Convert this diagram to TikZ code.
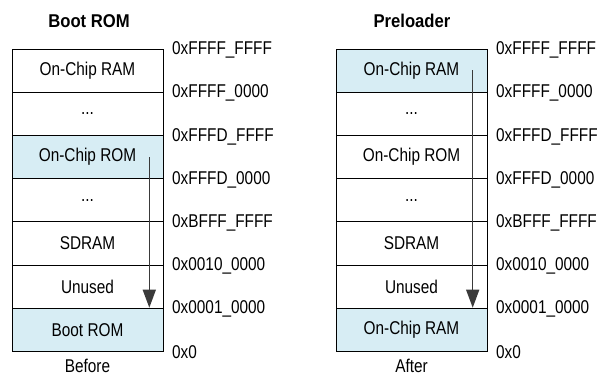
\documentclass[tikz,border=0pt]{standalone}
\usepackage{fontspec}
\setmainfont{Liberation Sans}[FakeStretch=0.83]
\newfontfamily\titlefont{Liberation Sans}[FakeStretch=0.9]
\usetikzlibrary{arrows.meta}
\definecolor{hl}{HTML}{D7EDF4}
\definecolor{arr}{HTML}{3A3A3A}
\tikzset{
  x=1pt,y=-1pt,
  cell/.style={draw=black,line width=1pt,minimum width=151pt,minimum height=43.2pt,inner sep=0pt,font=\fontsize{18.5}{22}\selectfont},
  hcell/.style={cell,fill=hl},
  addr/.style={anchor=west,inner sep=0pt,font=\fontsize{18.5}{22}\selectfont},
  ttl/.style={inner sep=0pt,font=\fontsize{18.5}{22}\titlefont\bfseries},
  captxt/.style={inner sep=0pt,font=\fontsize{18.5}{22}\selectfont},
  flow/.style={draw=arr,line width=1.5pt,-{Triangle[length=18pt,width=13pt]}}
}
\begin{document}
\begin{tikzpicture}
\useasboundingbox (0,0) rectangle (597,376);
% left column
\node[ttl] (tL) at (89,21) {Boot ROM};
\node[cell]  (L1) at (87.5,70.6) {On-Chip RAM};
\node[cell]  (L2) at (87.5,113.8) {...};
\node[hcell] (L3) at (87.5,157) {On-Chip ROM};
\node[cell]  (L4) at (87.5,200.2) {...};
\node[cell]  (L5) at (87.5,243.4) {SDRAM};
\node[cell]  (L6) at (87.5,286.6) {Unused};
\node[hcell] (L7) at (87.5,329.8) {Boot ROM};
\node[captxt] (cL) at (87.5,366) {Before};
% right column
\node[ttl] (tR) at (412,21) {Preloader};
\node[hcell] (R1) at (411.5,70.6) {On-Chip RAM};
\node[cell]  (R2) at (411.5,113.8) {...};
\node[cell]  (R3) at (411.5,157) {On-Chip ROM};
\node[cell]  (R4) at (411.5,200.2) {...};
\node[cell]  (R5) at (411.5,243.4) {SDRAM};
\node[cell]  (R6) at (411.5,286.6) {Unused};
\node[hcell] (R7) at (411.5,329.8) {On-Chip RAM};
\node[captxt] (cR) at (411.5,366) {After};
% addresses left
\node[addr] (la0) at (172,50) {0xFFFF\_FFFF};
\node[addr] (la1) at (172,93.2) {0xFFFF\_0000};
\node[addr] (la2) at (172,136.4) {0xFFFD\_FFFF};
\node[addr] (la3) at (172,179.6) {0xFFFD\_0000};
\node[addr] (la4) at (172,222.8) {0xBFFF\_FFFF};
\node[addr] (la5) at (172,266) {0x0010\_0000};
\node[addr] (la6) at (172,309.2) {0x0001\_0000};
\node[addr] (la7) at (172,352.4) {0x0};
% addresses right
\node[addr] (ra0) at (496,50) {0xFFFF\_FFFF};
\node[addr] (ra1) at (496,93.2) {0xFFFF\_0000};
\node[addr] (ra2) at (496,136.4) {0xFFFD\_FFFF};
\node[addr] (ra3) at (496,179.6) {0xFFFD\_0000};
\node[addr] (ra4) at (496,222.8) {0xBFFF\_FFFF};
\node[addr] (ra5) at (496,266) {0x0010\_0000};
\node[addr] (ra6) at (496,309.2) {0x0001\_0000};
\node[addr] (ra7) at (496,352.4) {0x0};
% arrows
\coordinate (aL) at (149.3,157);
\coordinate (aR) at (472.7,70);
\draw[flow] (aL) -- (aL |- L7.north);
\draw[flow] (aR) -- (aR |- R7.north);
\end{tikzpicture}
\end{document}
